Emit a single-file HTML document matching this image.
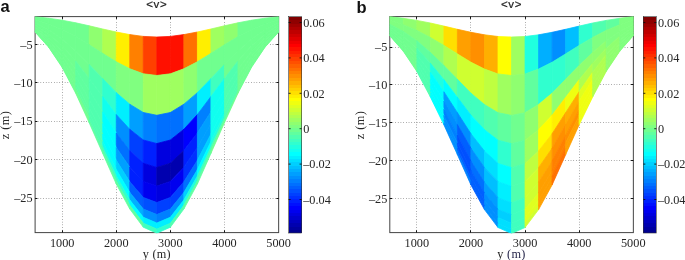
<!DOCTYPE html>
<html><head><meta charset="utf-8"><title>Figure</title>
<style>
html,body{margin:0;padding:0;background:#fff;}
svg{display:block;}
</style></head><body>
<svg width="685" height="260" viewBox="0 0 685 260">
<rect x="0" y="0" width="685" height="260" fill="#fff"/>
<g transform="translate(0,0)">
<g stroke="#555" stroke-width="0.75" stroke-dasharray="0.65,2.05" fill="none">
<line x1="62.50" y1="16.6" x2="62.50" y2="232.6"/>
<line x1="116.50" y1="16.6" x2="116.50" y2="232.6"/>
<line x1="170.50" y1="16.6" x2="170.50" y2="232.6"/>
<line x1="224.50" y1="16.6" x2="224.50" y2="232.6"/>
<line x1="35.1" y1="44.50" x2="278.65" y2="44.50"/>
<line x1="35.1" y1="82.50" x2="278.65" y2="82.50"/>
<line x1="35.1" y1="121.50" x2="278.65" y2="121.50"/>
<line x1="35.1" y1="159.50" x2="278.65" y2="159.50"/>
<line x1="35.1" y1="198.50" x2="278.65" y2="198.50"/>
</g>
<rect x="35.1" y="16.6" width="243.54999999999998" height="216.0" fill="none" stroke="#444" stroke-width="1"/>
<g stroke="#111" stroke-width="1">
<line x1="62.50" y1="232.6" x2="62.50" y2="230.29999999999998"/>
<line x1="62.50" y1="16.6" x2="62.50" y2="18.900000000000002"/>
<line x1="116.50" y1="232.6" x2="116.50" y2="230.29999999999998"/>
<line x1="116.50" y1="16.6" x2="116.50" y2="18.900000000000002"/>
<line x1="170.50" y1="232.6" x2="170.50" y2="230.29999999999998"/>
<line x1="170.50" y1="16.6" x2="170.50" y2="18.900000000000002"/>
<line x1="224.50" y1="232.6" x2="224.50" y2="230.29999999999998"/>
<line x1="224.50" y1="16.6" x2="224.50" y2="18.900000000000002"/>
<line x1="35.1" y1="44.50" x2="37.4" y2="44.50"/>
<line x1="278.65" y1="44.50" x2="276.34999999999997" y2="44.50"/>
<line x1="35.1" y1="82.50" x2="37.4" y2="82.50"/>
<line x1="278.65" y1="82.50" x2="276.34999999999997" y2="82.50"/>
<line x1="35.1" y1="121.50" x2="37.4" y2="121.50"/>
<line x1="278.65" y1="121.50" x2="276.34999999999997" y2="121.50"/>
<line x1="35.1" y1="159.50" x2="37.4" y2="159.50"/>
<line x1="278.65" y1="159.50" x2="276.34999999999997" y2="159.50"/>
<line x1="35.1" y1="198.50" x2="37.4" y2="198.50"/>
<line x1="278.65" y1="198.50" x2="276.34999999999997" y2="198.50"/>
</g>
<clipPath id="clipa"><rect x="34.5" y="16.3" width="244.74999999999997" height="216.9"/></clipPath>
<g clip-path="url(#clipa)" stroke-width="0.8" stroke-linejoin="round">
<polygon points="35.10,16.70 48.62,18.20 48.62,23.88 35.10,19.72" fill="#70ff8f" stroke="#70ff8f"/>
<polygon points="48.62,18.20 62.15,20.20 62.15,29.45 48.62,23.88" fill="#70ff8f" stroke="#70ff8f"/>
<polygon points="62.15,20.20 75.68,22.80 75.68,36.60 62.15,29.45" fill="#70ff8f" stroke="#70ff8f"/>
<polygon points="75.68,22.80 89.20,25.80 89.20,44.81 75.68,36.60" fill="#70ff8f" stroke="#70ff8f"/>
<polygon points="89.20,25.80 102.73,29.00 102.73,53.38 89.20,44.81" fill="#8fff70" stroke="#8fff70"/>
<polygon points="102.72,29.00 116.25,32.00 116.25,61.79 102.72,53.38" fill="#afff50" stroke="#afff50"/>
<polygon points="116.25,32.00 129.78,34.60 129.78,68.78 116.25,61.79" fill="#ffef00" stroke="#ffef00"/>
<polygon points="129.78,34.60 143.30,36.40 143.30,73.80 129.78,68.78" fill="#ff8000" stroke="#ff8000"/>
<polygon points="143.30,36.40 156.83,37.00 156.83,75.46 143.30,73.80" fill="#ff4000" stroke="#ff4000"/>
<polygon points="156.83,37.00 170.35,36.40 170.35,73.80 156.83,75.46" fill="#ff1000" stroke="#ff1000"/>
<polygon points="170.35,36.40 183.88,34.60 183.88,68.78 170.35,73.80" fill="#ff1000" stroke="#ff1000"/>
<polygon points="183.88,34.60 197.40,32.00 197.40,61.79 183.88,68.78" fill="#ff7000" stroke="#ff7000"/>
<polygon points="197.40,32.00 210.93,29.00 210.93,53.38 197.40,61.79" fill="#ffef00" stroke="#ffef00"/>
<polygon points="210.93,29.00 224.45,25.80 224.45,44.81 210.93,53.38" fill="#9fff60" stroke="#9fff60"/>
<polygon points="224.45,25.80 237.97,22.80 237.97,36.60 224.45,44.81" fill="#8fff70" stroke="#8fff70"/>
<polygon points="237.97,22.80 251.50,20.20 251.50,29.45 237.97,36.60" fill="#70ff8f" stroke="#70ff8f"/>
<polygon points="251.50,20.20 265.02,18.20 265.02,23.88 251.50,29.45" fill="#70ff8f" stroke="#70ff8f"/>
<polygon points="265.03,18.20 278.55,16.70 278.55,19.72 265.03,23.88" fill="#70ff8f" stroke="#70ff8f"/>
<polygon points="35.10,19.72 48.62,23.88 48.62,29.77 35.10,22.84" fill="#70ff8f" stroke="#70ff8f"/>
<polygon points="48.62,23.88 62.15,29.45 62.15,39.03 48.62,29.77" fill="#70ff8f" stroke="#70ff8f"/>
<polygon points="62.15,29.45 75.68,36.60 75.68,50.89 62.15,39.03" fill="#70ff8f" stroke="#70ff8f"/>
<polygon points="75.68,36.60 89.20,44.81 89.20,64.50 75.68,50.89" fill="#70ff8f" stroke="#70ff8f"/>
<polygon points="89.20,44.81 102.73,53.38 102.73,78.64 89.20,64.50" fill="#70ff8f" stroke="#70ff8f"/>
<polygon points="102.72,53.38 116.25,61.79 116.25,92.65 102.72,78.64" fill="#70ff8f" stroke="#70ff8f"/>
<polygon points="116.25,61.79 129.78,68.78 129.78,104.19 116.25,92.65" fill="#80ff80" stroke="#80ff80"/>
<polygon points="129.78,68.78 143.30,73.80 143.30,112.53 129.78,104.19" fill="#80ff80" stroke="#80ff80"/>
<polygon points="143.30,73.80 156.83,75.46 156.83,115.28 143.30,112.53" fill="#9fff60" stroke="#9fff60"/>
<polygon points="156.83,75.46 170.35,73.80 170.35,112.53 156.83,115.28" fill="#9fff60" stroke="#9fff60"/>
<polygon points="170.35,73.80 183.88,68.78 183.88,104.19 170.35,112.53" fill="#9fff60" stroke="#9fff60"/>
<polygon points="183.88,68.78 197.40,61.79 197.40,92.65 183.88,104.19" fill="#8fff70" stroke="#8fff70"/>
<polygon points="197.40,61.79 210.93,53.38 210.93,78.64 197.40,92.65" fill="#70ff8f" stroke="#70ff8f"/>
<polygon points="210.93,53.38 224.45,44.81 224.45,64.50 210.93,78.64" fill="#70ff8f" stroke="#70ff8f"/>
<polygon points="224.45,44.81 237.97,36.60 237.97,50.89 224.45,64.50" fill="#70ff8f" stroke="#70ff8f"/>
<polygon points="237.97,36.60 251.50,29.45 251.50,39.03 237.97,50.89" fill="#70ff8f" stroke="#70ff8f"/>
<polygon points="251.50,29.45 265.02,23.88 265.02,29.77 251.50,39.03" fill="#70ff8f" stroke="#70ff8f"/>
<polygon points="265.03,23.88 278.55,19.72 278.55,22.84 265.03,29.77" fill="#70ff8f" stroke="#70ff8f"/>
<polygon points="35.10,22.84 48.62,29.77 48.62,33.95 35.10,25.06" fill="#70ff8f" stroke="#70ff8f"/>
<polygon points="48.62,29.77 62.15,39.03 62.15,45.83 48.62,33.95" fill="#70ff8f" stroke="#70ff8f"/>
<polygon points="62.15,39.03 75.68,50.89 75.68,61.03 62.15,45.83" fill="#70ff8f" stroke="#70ff8f"/>
<polygon points="75.68,50.89 89.20,64.50 89.20,78.47 75.68,61.03" fill="#70ff8f" stroke="#70ff8f"/>
<polygon points="89.20,64.50 102.73,78.64 102.73,96.55 89.20,78.47" fill="#50ffaf" stroke="#50ffaf"/>
<polygon points="102.72,78.64 116.25,92.65 116.25,114.54 102.72,96.55" fill="#30ffcf" stroke="#30ffcf"/>
<polygon points="116.25,92.65 129.78,104.19 129.78,129.30 116.25,114.54" fill="#00efff" stroke="#00efff"/>
<polygon points="129.78,104.19 143.30,112.53 143.30,140.00 129.78,129.30" fill="#009fff" stroke="#009fff"/>
<polygon points="143.30,112.53 156.83,115.28 156.83,143.54 143.30,140.00" fill="#0080ff" stroke="#0080ff"/>
<polygon points="156.83,115.28 170.35,112.53 170.35,140.00 156.83,143.54" fill="#0070ff" stroke="#0070ff"/>
<polygon points="170.35,112.53 183.88,104.19 183.88,129.30 170.35,140.00" fill="#0070ff" stroke="#0070ff"/>
<polygon points="183.88,104.19 197.40,92.65 197.40,114.54 183.88,129.30" fill="#009fff" stroke="#009fff"/>
<polygon points="197.40,92.65 210.93,78.64 210.93,96.55 197.40,114.54" fill="#00efff" stroke="#00efff"/>
<polygon points="210.93,78.64 224.45,64.50 224.45,78.47 210.93,96.55" fill="#40ffbf" stroke="#40ffbf"/>
<polygon points="224.45,64.50 237.97,50.89 237.97,61.03 224.45,78.47" fill="#70ff8f" stroke="#70ff8f"/>
<polygon points="237.97,50.89 251.50,39.03 251.50,45.83 237.97,61.03" fill="#70ff8f" stroke="#70ff8f"/>
<polygon points="251.50,39.03 265.02,29.77 265.02,33.95 251.50,45.83" fill="#70ff8f" stroke="#70ff8f"/>
<polygon points="265.03,29.77 278.55,22.84 278.55,25.06 265.03,33.95" fill="#70ff8f" stroke="#70ff8f"/>
<polygon points="35.10,25.06 48.62,33.95 48.62,37.48 35.10,26.94" fill="#70ff8f" stroke="#70ff8f"/>
<polygon points="48.62,33.95 62.15,45.83 62.15,51.59 48.62,37.48" fill="#70ff8f" stroke="#70ff8f"/>
<polygon points="62.15,45.83 75.68,61.03 75.68,69.62 62.15,51.59" fill="#70ff8f" stroke="#70ff8f"/>
<polygon points="75.68,61.03 89.20,78.47 89.20,90.31 75.68,69.62" fill="#60ff9f" stroke="#60ff9f"/>
<polygon points="89.20,78.47 102.73,96.55 102.73,111.73 89.20,90.31" fill="#50ffaf" stroke="#50ffaf"/>
<polygon points="102.72,96.55 116.25,114.54 116.25,133.08 102.72,111.73" fill="#10ffef" stroke="#10ffef"/>
<polygon points="116.25,114.54 129.78,129.30 129.78,150.58 116.25,133.08" fill="#008fff" stroke="#008fff"/>
<polygon points="129.78,129.30 143.30,140.00 143.30,163.28 129.78,150.58" fill="#0040ff" stroke="#0040ff"/>
<polygon points="143.30,140.00 156.83,143.54 156.83,167.47 143.30,163.28" fill="#0020ff" stroke="#0020ff"/>
<polygon points="156.83,143.54 170.35,140.00 170.35,163.28 156.83,167.47" fill="#0000df" stroke="#0000df"/>
<polygon points="170.35,140.00 183.88,129.30 183.88,150.58 170.35,163.28" fill="#0000df" stroke="#0000df"/>
<polygon points="183.88,129.30 197.40,114.54 197.40,133.08 183.88,150.58" fill="#0000ff" stroke="#0000ff"/>
<polygon points="197.40,114.54 210.93,96.55 210.93,111.73 197.40,133.08" fill="#0080ff" stroke="#0080ff"/>
<polygon points="210.93,96.55 224.45,78.47 224.45,90.31 210.93,111.73" fill="#10ffef" stroke="#10ffef"/>
<polygon points="224.45,78.47 237.97,61.03 237.97,69.62 224.45,90.31" fill="#50ffaf" stroke="#50ffaf"/>
<polygon points="237.97,61.03 251.50,45.83 251.50,51.59 237.97,69.62" fill="#70ff8f" stroke="#70ff8f"/>
<polygon points="251.50,45.83 265.02,33.95 265.02,37.48 251.50,51.59" fill="#70ff8f" stroke="#70ff8f"/>
<polygon points="265.03,33.95 278.55,25.06 278.55,26.94 265.03,37.48" fill="#70ff8f" stroke="#70ff8f"/>
<polygon points="35.10,26.94 48.62,37.48 48.62,40.24 35.10,28.40" fill="#70ff8f" stroke="#70ff8f"/>
<polygon points="48.62,37.48 62.15,51.59 62.15,56.07 48.62,40.24" fill="#70ff8f" stroke="#70ff8f"/>
<polygon points="62.15,51.59 75.68,69.62 75.68,76.30 62.15,56.07" fill="#70ff8f" stroke="#70ff8f"/>
<polygon points="75.68,69.62 89.20,90.31 89.20,99.52 75.68,76.30" fill="#60ff9f" stroke="#60ff9f"/>
<polygon points="89.20,90.31 102.73,111.73 102.73,123.54 89.20,99.52" fill="#50ffaf" stroke="#50ffaf"/>
<polygon points="102.72,111.73 116.25,133.08 116.25,147.52 102.72,123.54" fill="#00ffff" stroke="#00ffff"/>
<polygon points="116.25,133.08 129.78,150.58 129.78,167.14 116.25,147.52" fill="#0070ff" stroke="#0070ff"/>
<polygon points="129.78,150.58 143.30,163.28 143.30,181.41 129.78,167.14" fill="#0020ff" stroke="#0020ff"/>
<polygon points="143.30,163.28 156.83,167.47 156.83,186.11 143.30,181.41" fill="#0000df" stroke="#0000df"/>
<polygon points="156.83,167.47 170.35,163.28 170.35,181.41 156.83,186.11" fill="#0000af" stroke="#0000af"/>
<polygon points="170.35,163.28 183.88,150.58 183.88,167.14 170.35,181.41" fill="#0000af" stroke="#0000af"/>
<polygon points="183.88,150.58 197.40,133.08 197.40,147.52 183.88,167.14" fill="#0020ff" stroke="#0020ff"/>
<polygon points="197.40,133.08 210.93,111.73 210.93,123.54 197.40,147.52" fill="#009fff" stroke="#009fff"/>
<polygon points="210.93,111.73 224.45,90.31 224.45,99.52 210.93,123.54" fill="#10ffef" stroke="#10ffef"/>
<polygon points="224.45,90.31 237.97,69.62 237.97,76.30 224.45,99.52" fill="#50ffaf" stroke="#50ffaf"/>
<polygon points="237.97,69.62 251.50,51.59 251.50,56.07 237.97,76.30" fill="#70ff8f" stroke="#70ff8f"/>
<polygon points="251.50,51.59 265.02,37.48 265.02,40.24 251.50,56.07" fill="#70ff8f" stroke="#70ff8f"/>
<polygon points="265.03,37.48 278.55,26.94 278.55,28.40 265.03,40.24" fill="#70ff8f" stroke="#70ff8f"/>
<polygon points="35.10,28.40 48.62,40.24 48.62,42.68 35.10,29.70" fill="#70ff8f" stroke="#70ff8f"/>
<polygon points="48.62,40.24 62.15,56.07 62.15,60.04 48.62,42.68" fill="#70ff8f" stroke="#70ff8f"/>
<polygon points="62.15,56.07 75.68,76.30 75.68,82.22 62.15,60.04" fill="#70ff8f" stroke="#70ff8f"/>
<polygon points="75.68,76.30 89.20,99.52 89.20,107.67 75.68,82.22" fill="#60ff9f" stroke="#60ff9f"/>
<polygon points="89.20,99.52 102.73,123.54 102.73,133.99 89.20,107.67" fill="#50ffaf" stroke="#50ffaf"/>
<polygon points="102.72,123.54 116.25,147.52 116.25,160.29 102.72,133.99" fill="#00ffff" stroke="#00ffff"/>
<polygon points="116.25,147.52 129.78,167.14 129.78,181.79 116.25,160.29" fill="#009fff" stroke="#009fff"/>
<polygon points="129.78,167.14 143.30,181.41 143.30,197.44 129.78,181.79" fill="#0020ff" stroke="#0020ff"/>
<polygon points="143.30,181.41 156.83,186.11 156.83,202.59 143.30,197.44" fill="#0000ef" stroke="#0000ef"/>
<polygon points="156.83,186.11 170.35,181.41 170.35,197.44 156.83,202.59" fill="#0000df" stroke="#0000df"/>
<polygon points="170.35,181.41 183.88,167.14 183.88,181.79 170.35,197.44" fill="#0000ef" stroke="#0000ef"/>
<polygon points="183.88,167.14 197.40,147.52 197.40,160.29 183.88,181.79" fill="#0030ff" stroke="#0030ff"/>
<polygon points="197.40,147.52 210.93,123.54 210.93,133.99 197.40,160.29" fill="#009fff" stroke="#009fff"/>
<polygon points="210.93,123.54 224.45,99.52 224.45,107.67 210.93,133.99" fill="#10ffef" stroke="#10ffef"/>
<polygon points="224.45,99.52 237.97,76.30 237.97,82.22 224.45,107.67" fill="#50ffaf" stroke="#50ffaf"/>
<polygon points="237.97,76.30 251.50,56.07 251.50,60.04 237.97,82.22" fill="#70ff8f" stroke="#70ff8f"/>
<polygon points="251.50,56.07 265.02,40.24 265.02,42.68 251.50,60.04" fill="#70ff8f" stroke="#70ff8f"/>
<polygon points="265.03,40.24 278.55,28.40 278.55,29.70 265.03,42.68" fill="#70ff8f" stroke="#70ff8f"/>
<polygon points="35.10,29.70 48.62,42.68 48.62,44.45 35.10,30.64" fill="#70ff8f" stroke="#70ff8f"/>
<polygon points="48.62,42.68 62.15,60.04 62.15,62.92 48.62,44.45" fill="#70ff8f" stroke="#70ff8f"/>
<polygon points="62.15,60.04 75.68,82.22 75.68,86.51 62.15,62.92" fill="#70ff8f" stroke="#70ff8f"/>
<polygon points="75.68,82.22 89.20,107.67 89.20,113.58 75.68,86.51" fill="#60ff9f" stroke="#60ff9f"/>
<polygon points="89.20,107.67 102.73,133.99 102.73,141.58 89.20,113.58" fill="#50ffaf" stroke="#50ffaf"/>
<polygon points="102.72,133.99 116.25,160.29 116.25,169.56 102.72,141.58" fill="#00ffff" stroke="#00ffff"/>
<polygon points="116.25,160.29 129.78,181.79 129.78,192.43 116.25,169.56" fill="#00cfff" stroke="#00cfff"/>
<polygon points="129.78,181.79 143.30,197.44 143.30,209.07 129.78,192.43" fill="#0060ff" stroke="#0060ff"/>
<polygon points="143.30,197.44 156.83,202.59 156.83,214.56 143.30,209.07" fill="#0050ff" stroke="#0050ff"/>
<polygon points="156.83,202.59 170.35,197.44 170.35,209.07 156.83,214.56" fill="#0040ff" stroke="#0040ff"/>
<polygon points="170.35,197.44 183.88,181.79 183.88,192.43 170.35,209.07" fill="#0040ff" stroke="#0040ff"/>
<polygon points="183.88,181.79 197.40,160.29 197.40,169.56 183.88,192.43" fill="#0070ff" stroke="#0070ff"/>
<polygon points="197.40,160.29 210.93,133.99 210.93,141.58 197.40,169.56" fill="#00cfff" stroke="#00cfff"/>
<polygon points="210.93,133.99 224.45,107.67 224.45,113.58 210.93,141.58" fill="#10ffef" stroke="#10ffef"/>
<polygon points="224.45,107.67 237.97,82.22 237.97,86.51 224.45,113.58" fill="#50ffaf" stroke="#50ffaf"/>
<polygon points="237.97,82.22 251.50,60.04 251.50,62.92 237.97,86.51" fill="#70ff8f" stroke="#70ff8f"/>
<polygon points="251.50,60.04 265.02,42.68 265.02,44.45 251.50,62.92" fill="#70ff8f" stroke="#70ff8f"/>
<polygon points="265.03,42.68 278.55,29.70 278.55,30.64 265.03,44.45" fill="#70ff8f" stroke="#70ff8f"/>
<polygon points="35.10,30.64 48.62,44.45 48.62,45.69 35.10,31.30" fill="#70ff8f" stroke="#70ff8f"/>
<polygon points="48.62,44.45 62.15,62.92 62.15,64.95 48.62,45.69" fill="#70ff8f" stroke="#70ff8f"/>
<polygon points="62.15,62.92 75.68,86.51 75.68,89.54 62.15,64.95" fill="#70ff8f" stroke="#70ff8f"/>
<polygon points="75.68,86.51 89.20,113.58 89.20,117.76 75.68,89.54" fill="#60ff9f" stroke="#60ff9f"/>
<polygon points="89.20,113.58 102.73,141.58 102.73,146.93 89.20,117.76" fill="#50ffaf" stroke="#50ffaf"/>
<polygon points="102.72,141.58 116.25,169.56 116.25,176.10 102.72,146.93" fill="#10ffef" stroke="#10ffef"/>
<polygon points="116.25,169.56 129.78,192.43 129.78,199.93 116.25,176.10" fill="#00ffff" stroke="#00ffff"/>
<polygon points="129.78,192.43 143.30,209.07 143.30,217.28 129.78,199.93" fill="#00afff" stroke="#00afff"/>
<polygon points="143.30,209.07 156.83,214.56 156.83,223.00 143.30,217.28" fill="#008fff" stroke="#008fff"/>
<polygon points="156.83,214.56 170.35,209.07 170.35,217.28 156.83,223.00" fill="#0080ff" stroke="#0080ff"/>
<polygon points="170.35,209.07 183.88,192.43 183.88,199.93 170.35,217.28" fill="#008fff" stroke="#008fff"/>
<polygon points="183.88,192.43 197.40,169.56 197.40,176.10 183.88,199.93" fill="#00cfff" stroke="#00cfff"/>
<polygon points="197.40,169.56 210.93,141.58 210.93,146.93 197.40,176.10" fill="#00ffff" stroke="#00ffff"/>
<polygon points="210.93,141.58 224.45,113.58 224.45,117.76 210.93,146.93" fill="#20ffdf" stroke="#20ffdf"/>
<polygon points="224.45,113.58 237.97,86.51 237.97,89.54 224.45,117.76" fill="#50ffaf" stroke="#50ffaf"/>
<polygon points="237.97,86.51 251.50,62.92 251.50,64.95 237.97,89.54" fill="#70ff8f" stroke="#70ff8f"/>
<polygon points="251.50,62.92 265.02,44.45 265.02,45.69 251.50,64.95" fill="#70ff8f" stroke="#70ff8f"/>
<polygon points="265.03,44.45 278.55,30.64 278.55,31.30 265.03,45.69" fill="#70ff8f" stroke="#70ff8f"/>
<polygon points="35.10,31.30 48.62,45.69 48.62,46.59 35.10,31.78" fill="#70ff8f" stroke="#70ff8f"/>
<polygon points="48.62,45.69 62.15,64.95 62.15,66.41 48.62,46.59" fill="#70ff8f" stroke="#70ff8f"/>
<polygon points="62.15,64.95 75.68,89.54 75.68,91.72 62.15,66.41" fill="#70ff8f" stroke="#70ff8f"/>
<polygon points="75.68,89.54 89.20,117.76 89.20,120.76 75.68,91.72" fill="#70ff8f" stroke="#70ff8f"/>
<polygon points="89.20,117.76 102.73,146.93 102.73,150.79 89.20,120.76" fill="#50ffaf" stroke="#50ffaf"/>
<polygon points="102.72,146.93 116.25,176.10 116.25,180.81 102.72,150.79" fill="#40ffbf" stroke="#40ffbf"/>
<polygon points="116.25,176.10 129.78,199.93 129.78,205.34 116.25,180.81" fill="#30ffcf" stroke="#30ffcf"/>
<polygon points="129.78,199.93 143.30,217.28 143.30,223.19 129.78,205.34" fill="#00ffff" stroke="#00ffff"/>
<polygon points="143.30,217.28 156.83,223.00 156.83,229.08 143.30,223.19" fill="#00efff" stroke="#00efff"/>
<polygon points="156.83,223.00 170.35,217.28 170.35,223.19 156.83,229.08" fill="#00efff" stroke="#00efff"/>
<polygon points="170.35,217.28 183.88,199.93 183.88,205.34 170.35,223.19" fill="#00efff" stroke="#00efff"/>
<polygon points="183.88,199.93 197.40,176.10 197.40,180.81 183.88,205.34" fill="#20ffdf" stroke="#20ffdf"/>
<polygon points="197.40,176.10 210.93,146.93 210.93,150.79 197.40,180.81" fill="#40ffbf" stroke="#40ffbf"/>
<polygon points="210.93,146.93 224.45,117.76 224.45,120.76 210.93,150.79" fill="#50ffaf" stroke="#50ffaf"/>
<polygon points="224.45,117.76 237.97,89.54 237.97,91.72 224.45,120.76" fill="#50ffaf" stroke="#50ffaf"/>
<polygon points="237.97,89.54 251.50,64.95 251.50,66.41 237.97,91.72" fill="#70ff8f" stroke="#70ff8f"/>
<polygon points="251.50,64.95 265.02,45.69 265.02,46.59 251.50,66.41" fill="#70ff8f" stroke="#70ff8f"/>
<polygon points="265.03,45.69 278.55,31.30 278.55,31.78 265.03,46.59" fill="#70ff8f" stroke="#70ff8f"/>
<polygon points="35.10,31.78 48.62,46.59 48.62,47.20 35.10,32.10" fill="#70ff8f" stroke="#70ff8f"/>
<polygon points="48.62,46.59 62.15,66.41 62.15,67.40 48.62,47.20" fill="#70ff8f" stroke="#70ff8f"/>
<polygon points="62.15,66.41 75.68,91.72 75.68,93.20 62.15,67.40" fill="#70ff8f" stroke="#70ff8f"/>
<polygon points="75.68,91.72 89.20,120.76 89.20,122.80 75.68,93.20" fill="#70ff8f" stroke="#70ff8f"/>
<polygon points="89.20,120.76 102.73,150.79 102.73,153.40 89.20,122.80" fill="#60ff9f" stroke="#60ff9f"/>
<polygon points="102.72,150.79 116.25,180.81 116.25,184.00 102.72,153.40" fill="#60ff9f" stroke="#60ff9f"/>
<polygon points="116.25,180.81 129.78,205.34 129.78,209.00 116.25,184.00" fill="#60ff9f" stroke="#60ff9f"/>
<polygon points="129.78,205.34 143.30,223.19 143.30,227.20 129.78,209.00" fill="#60ff9f" stroke="#60ff9f"/>
<polygon points="143.30,223.19 156.83,229.08 156.83,233.20 143.30,227.20" fill="#40ffbf" stroke="#40ffbf"/>
<polygon points="156.83,229.08 170.35,223.19 170.35,227.20 156.83,233.20" fill="#30ffcf" stroke="#30ffcf"/>
<polygon points="170.35,223.19 183.88,205.34 183.88,209.00 170.35,227.20" fill="#50ffaf" stroke="#50ffaf"/>
<polygon points="183.88,205.34 197.40,180.81 197.40,184.00 183.88,209.00" fill="#60ff9f" stroke="#60ff9f"/>
<polygon points="197.40,180.81 210.93,150.79 210.93,153.40 197.40,184.00" fill="#60ff9f" stroke="#60ff9f"/>
<polygon points="210.93,150.79 224.45,120.76 224.45,122.80 210.93,153.40" fill="#70ff8f" stroke="#70ff8f"/>
<polygon points="224.45,120.76 237.97,91.72 237.97,93.20 224.45,122.80" fill="#70ff8f" stroke="#70ff8f"/>
<polygon points="237.97,91.72 251.50,66.41 251.50,67.40 237.97,93.20" fill="#70ff8f" stroke="#70ff8f"/>
<polygon points="251.50,66.41 265.02,46.59 265.02,47.20 251.50,67.40" fill="#70ff8f" stroke="#70ff8f"/>
<polygon points="265.03,46.59 278.55,31.78 278.55,32.10 265.03,47.20" fill="#70ff8f" stroke="#70ff8f"/>
</g>
<g font-family="'Liberation Serif', serif" font-size="13.2px" fill="#262626">
<text transform="translate(62.15,247.00) scale(0.93,1)" text-anchor="middle">1000</text>
<text transform="translate(116.25,247.00) scale(0.93,1)" text-anchor="middle">2000</text>
<text transform="translate(170.35,247.00) scale(0.93,1)" text-anchor="middle">3000</text>
<text transform="translate(224.45,247.00) scale(0.93,1)" text-anchor="middle">4000</text>
<text transform="translate(278.55,247.00) scale(0.93,1)" text-anchor="middle">5000</text>
<text transform="translate(32.60,48.61) scale(0.93,1)" text-anchor="end">–5</text>
<text transform="translate(32.60,87.03) scale(0.93,1)" text-anchor="end">–10</text>
<text transform="translate(32.60,125.45) scale(0.93,1)" text-anchor="end">–15</text>
<text transform="translate(32.60,163.88) scale(0.93,1)" text-anchor="end">–20</text>
<text transform="translate(32.60,202.30) scale(0.93,1)" text-anchor="end">–25</text>
<text transform="translate(156.80,257.60) scale(0.93,1)" text-anchor="middle" letter-spacing="0.3">y (m)</text>
<text transform="translate(9.2,125) rotate(-90) scale(0.93,1)" text-anchor="middle" letter-spacing="0.5">z (m)</text>
<text transform="translate(303.20,26.80) scale(0.93,1)" text-anchor="start">0.06</text>
<text transform="translate(303.20,62.20) scale(0.93,1)" text-anchor="start">0.04</text>
<text transform="translate(303.20,97.60) scale(0.93,1)" text-anchor="start">0.02</text>
<text transform="translate(303.20,133.00) scale(0.93,1)" text-anchor="start">0</text>
<text transform="translate(303.20,168.40) scale(0.93,1)" text-anchor="start">–0.02</text>
<text transform="translate(303.20,203.80) scale(0.93,1)" text-anchor="start">–0.04</text>
</g>
<text x="156.8" y="8.1" text-anchor="middle" font-family="'Liberation Sans', sans-serif" font-size="11.5px" letter-spacing="0.6" fill="#222" stroke="#222" stroke-width="0.2">&lt;v&gt;</text>
<text x="0.6" y="12.4" font-family="'Liberation Sans', sans-serif" font-weight="bold" font-size="16.5px" fill="#111">a</text>
<g shape-rendering="crispEdges">
<rect x="288.6" y="229.62" width="13.0" height="3.68" fill="#00008f"/>
<rect x="288.6" y="226.24" width="13.0" height="3.68" fill="#00009f"/>
<rect x="288.6" y="222.86" width="13.0" height="3.68" fill="#0000af"/>
<rect x="288.6" y="219.47" width="13.0" height="3.68" fill="#0000bf"/>
<rect x="288.6" y="216.09" width="13.0" height="3.68" fill="#0000cf"/>
<rect x="288.6" y="212.71" width="13.0" height="3.68" fill="#0000df"/>
<rect x="288.6" y="209.33" width="13.0" height="3.68" fill="#0000ef"/>
<rect x="288.6" y="205.95" width="13.0" height="3.68" fill="#0000ff"/>
<rect x="288.6" y="202.57" width="13.0" height="3.68" fill="#0010ff"/>
<rect x="288.6" y="199.19" width="13.0" height="3.68" fill="#0020ff"/>
<rect x="288.6" y="195.81" width="13.0" height="3.68" fill="#0030ff"/>
<rect x="288.6" y="192.43" width="13.0" height="3.68" fill="#0040ff"/>
<rect x="288.6" y="189.04" width="13.0" height="3.68" fill="#0050ff"/>
<rect x="288.6" y="185.66" width="13.0" height="3.68" fill="#0060ff"/>
<rect x="288.6" y="182.28" width="13.0" height="3.68" fill="#0070ff"/>
<rect x="288.6" y="178.90" width="13.0" height="3.68" fill="#0080ff"/>
<rect x="288.6" y="175.52" width="13.0" height="3.68" fill="#008fff"/>
<rect x="288.6" y="172.14" width="13.0" height="3.68" fill="#009fff"/>
<rect x="288.6" y="168.76" width="13.0" height="3.68" fill="#00afff"/>
<rect x="288.6" y="165.38" width="13.0" height="3.68" fill="#00bfff"/>
<rect x="288.6" y="161.99" width="13.0" height="3.68" fill="#00cfff"/>
<rect x="288.6" y="158.61" width="13.0" height="3.68" fill="#00dfff"/>
<rect x="288.6" y="155.23" width="13.0" height="3.68" fill="#00efff"/>
<rect x="288.6" y="151.85" width="13.0" height="3.68" fill="#00ffff"/>
<rect x="288.6" y="148.47" width="13.0" height="3.68" fill="#10ffef"/>
<rect x="288.6" y="145.09" width="13.0" height="3.68" fill="#20ffdf"/>
<rect x="288.6" y="141.71" width="13.0" height="3.68" fill="#30ffcf"/>
<rect x="288.6" y="138.32" width="13.0" height="3.68" fill="#40ffbf"/>
<rect x="288.6" y="134.94" width="13.0" height="3.68" fill="#50ffaf"/>
<rect x="288.6" y="131.56" width="13.0" height="3.68" fill="#60ff9f"/>
<rect x="288.6" y="128.18" width="13.0" height="3.68" fill="#70ff8f"/>
<rect x="288.6" y="124.80" width="13.0" height="3.68" fill="#80ff80"/>
<rect x="288.6" y="121.42" width="13.0" height="3.68" fill="#8fff70"/>
<rect x="288.6" y="118.04" width="13.0" height="3.68" fill="#9fff60"/>
<rect x="288.6" y="114.66" width="13.0" height="3.68" fill="#afff50"/>
<rect x="288.6" y="111.27" width="13.0" height="3.68" fill="#bfff40"/>
<rect x="288.6" y="107.89" width="13.0" height="3.68" fill="#cfff30"/>
<rect x="288.6" y="104.51" width="13.0" height="3.68" fill="#dfff20"/>
<rect x="288.6" y="101.13" width="13.0" height="3.68" fill="#efff10"/>
<rect x="288.6" y="97.75" width="13.0" height="3.68" fill="#ffff00"/>
<rect x="288.6" y="94.37" width="13.0" height="3.68" fill="#ffef00"/>
<rect x="288.6" y="90.99" width="13.0" height="3.68" fill="#ffdf00"/>
<rect x="288.6" y="87.61" width="13.0" height="3.68" fill="#ffcf00"/>
<rect x="288.6" y="84.22" width="13.0" height="3.68" fill="#ffbf00"/>
<rect x="288.6" y="80.84" width="13.0" height="3.68" fill="#ffaf00"/>
<rect x="288.6" y="77.46" width="13.0" height="3.68" fill="#ff9f00"/>
<rect x="288.6" y="74.08" width="13.0" height="3.68" fill="#ff8f00"/>
<rect x="288.6" y="70.70" width="13.0" height="3.68" fill="#ff8000"/>
<rect x="288.6" y="67.32" width="13.0" height="3.68" fill="#ff7000"/>
<rect x="288.6" y="63.94" width="13.0" height="3.68" fill="#ff6000"/>
<rect x="288.6" y="60.56" width="13.0" height="3.68" fill="#ff5000"/>
<rect x="288.6" y="57.17" width="13.0" height="3.68" fill="#ff4000"/>
<rect x="288.6" y="53.79" width="13.0" height="3.68" fill="#ff3000"/>
<rect x="288.6" y="50.41" width="13.0" height="3.68" fill="#ff2000"/>
<rect x="288.6" y="47.03" width="13.0" height="3.68" fill="#ff1000"/>
<rect x="288.6" y="43.65" width="13.0" height="3.68" fill="#ff0000"/>
<rect x="288.6" y="40.27" width="13.0" height="3.68" fill="#ef0000"/>
<rect x="288.6" y="36.89" width="13.0" height="3.68" fill="#df0000"/>
<rect x="288.6" y="33.51" width="13.0" height="3.68" fill="#cf0000"/>
<rect x="288.6" y="30.12" width="13.0" height="3.68" fill="#bf0000"/>
<rect x="288.6" y="26.74" width="13.0" height="3.68" fill="#af0000"/>
<rect x="288.6" y="23.36" width="13.0" height="3.68" fill="#9f0000"/>
<rect x="288.6" y="19.98" width="13.0" height="3.68" fill="#8f0000"/>
<rect x="288.6" y="16.60" width="13.0" height="3.68" fill="#800000"/>
</g>
<rect x="288.6" y="16.6" width="13.0" height="216.4" fill="none" stroke="#333" stroke-width="0.6"/>
<g stroke="#111" stroke-width="0.9">
<line x1="288.6" y1="22.50" x2="290.6" y2="22.50"/>
<line x1="301.6" y1="22.50" x2="299.6" y2="22.50"/>
<line x1="288.6" y1="57.90" x2="290.6" y2="57.90"/>
<line x1="301.6" y1="57.90" x2="299.6" y2="57.90"/>
<line x1="288.6" y1="93.30" x2="290.6" y2="93.30"/>
<line x1="301.6" y1="93.30" x2="299.6" y2="93.30"/>
<line x1="288.6" y1="128.70" x2="290.6" y2="128.70"/>
<line x1="301.6" y1="128.70" x2="299.6" y2="128.70"/>
<line x1="288.6" y1="164.10" x2="290.6" y2="164.10"/>
<line x1="301.6" y1="164.10" x2="299.6" y2="164.10"/>
<line x1="288.6" y1="199.50" x2="290.6" y2="199.50"/>
<line x1="301.6" y1="199.50" x2="299.6" y2="199.50"/>
</g>
</g>
<g transform="translate(354.7,0)">
<g stroke="#555" stroke-width="0.75" stroke-dasharray="0.65,2.05" fill="none">
<line x1="61.80" y1="16.6" x2="61.80" y2="232.6"/>
<line x1="115.80" y1="16.6" x2="115.80" y2="232.6"/>
<line x1="170.80" y1="16.6" x2="170.80" y2="232.6"/>
<line x1="224.80" y1="16.6" x2="224.80" y2="232.6"/>
<line x1="35.1" y1="47.50" x2="278.65" y2="47.50"/>
<line x1="35.1" y1="84.50" x2="278.65" y2="84.50"/>
<line x1="35.1" y1="122.50" x2="278.65" y2="122.50"/>
<line x1="35.1" y1="160.50" x2="278.65" y2="160.50"/>
<line x1="35.1" y1="198.50" x2="278.65" y2="198.50"/>
</g>
<rect x="35.1" y="16.6" width="243.54999999999998" height="216.0" fill="none" stroke="#444" stroke-width="1"/>
<g stroke="#111" stroke-width="1">
<line x1="61.80" y1="232.6" x2="61.80" y2="230.29999999999998"/>
<line x1="61.80" y1="16.6" x2="61.80" y2="18.900000000000002"/>
<line x1="115.80" y1="232.6" x2="115.80" y2="230.29999999999998"/>
<line x1="115.80" y1="16.6" x2="115.80" y2="18.900000000000002"/>
<line x1="170.80" y1="232.6" x2="170.80" y2="230.29999999999998"/>
<line x1="170.80" y1="16.6" x2="170.80" y2="18.900000000000002"/>
<line x1="224.80" y1="232.6" x2="224.80" y2="230.29999999999998"/>
<line x1="224.80" y1="16.6" x2="224.80" y2="18.900000000000002"/>
<line x1="35.1" y1="47.50" x2="37.4" y2="47.50"/>
<line x1="278.65" y1="47.50" x2="276.34999999999997" y2="47.50"/>
<line x1="35.1" y1="84.50" x2="37.4" y2="84.50"/>
<line x1="278.65" y1="84.50" x2="276.34999999999997" y2="84.50"/>
<line x1="35.1" y1="122.50" x2="37.4" y2="122.50"/>
<line x1="278.65" y1="122.50" x2="276.34999999999997" y2="122.50"/>
<line x1="35.1" y1="160.50" x2="37.4" y2="160.50"/>
<line x1="278.65" y1="160.50" x2="276.34999999999997" y2="160.50"/>
<line x1="35.1" y1="198.50" x2="37.4" y2="198.50"/>
<line x1="278.65" y1="198.50" x2="276.34999999999997" y2="198.50"/>
</g>
<clipPath id="clipb"><rect x="34.5" y="16.3" width="244.74999999999997" height="216.9"/></clipPath>
<g clip-path="url(#clipb)" stroke-width="0.8" stroke-linejoin="round">
<polygon points="35.10,16.60 48.62,18.30 48.62,24.77 35.10,20.36" fill="#80ff80" stroke="#80ff80"/>
<polygon points="48.62,18.30 62.15,20.40 62.15,30.42 48.62,24.77" fill="#8fff70" stroke="#8fff70"/>
<polygon points="62.15,20.40 75.68,23.00 75.68,37.50 62.15,30.42" fill="#9fff60" stroke="#9fff60"/>
<polygon points="75.68,23.00 89.20,26.10 89.20,45.45 75.68,37.50" fill="#cfff30" stroke="#cfff30"/>
<polygon points="89.20,26.10 102.73,29.30 102.73,53.88 89.20,45.45" fill="#ffdf00" stroke="#ffdf00"/>
<polygon points="102.72,29.30 116.25,32.30 116.25,62.21 102.72,53.88" fill="#ff9f00" stroke="#ff9f00"/>
<polygon points="116.25,32.30 129.78,34.80 129.78,69.06 116.25,62.21" fill="#ff8f00" stroke="#ff8f00"/>
<polygon points="129.78,34.80 143.30,36.50 143.30,73.94 129.78,69.06" fill="#ffaf00" stroke="#ffaf00"/>
<polygon points="143.30,36.50 156.83,37.00 156.83,75.51 143.30,73.94" fill="#ffff00" stroke="#ffff00"/>
<polygon points="156.83,37.00 170.35,36.50 170.35,73.94 156.83,75.51" fill="#9fff60" stroke="#9fff60"/>
<polygon points="170.35,36.50 183.88,34.80 183.88,69.06 170.35,73.94" fill="#20ffdf" stroke="#20ffdf"/>
<polygon points="183.88,34.80 197.40,32.30 197.40,62.21 183.88,69.06" fill="#00afff" stroke="#00afff"/>
<polygon points="197.40,32.30 210.93,29.30 210.93,53.88 197.40,62.21" fill="#008fff" stroke="#008fff"/>
<polygon points="210.93,29.30 224.45,26.10 224.45,45.45 210.93,53.88" fill="#00bfff" stroke="#00bfff"/>
<polygon points="224.45,26.10 237.97,23.00 237.97,37.50 224.45,45.45" fill="#30ffcf" stroke="#30ffcf"/>
<polygon points="237.97,23.00 251.50,20.40 251.50,30.42 237.97,37.50" fill="#50ffaf" stroke="#50ffaf"/>
<polygon points="251.50,20.40 265.02,18.30 265.02,24.77 251.50,30.42" fill="#60ff9f" stroke="#60ff9f"/>
<polygon points="265.03,18.30 278.55,16.60 278.55,20.36 265.03,24.77" fill="#80ff80" stroke="#80ff80"/>
<polygon points="35.10,20.36 48.62,24.77 48.62,31.47 35.10,24.26" fill="#80ff80" stroke="#80ff80"/>
<polygon points="48.62,24.77 62.15,30.42 62.15,40.79 48.62,31.47" fill="#80ff80" stroke="#80ff80"/>
<polygon points="62.15,30.42 75.68,37.50 75.68,52.53 62.15,40.79" fill="#80ff80" stroke="#80ff80"/>
<polygon points="75.68,37.50 89.20,45.45 89.20,65.48 75.68,52.53" fill="#8fff70" stroke="#8fff70"/>
<polygon points="89.20,45.45 102.73,53.88 102.73,79.33 89.20,65.48" fill="#afff50" stroke="#afff50"/>
<polygon points="102.72,53.88 116.25,62.21 116.25,93.19 102.72,79.33" fill="#cfff30" stroke="#cfff30"/>
<polygon points="116.25,62.21 129.78,69.06 129.78,104.55 116.25,93.19" fill="#cfff30" stroke="#cfff30"/>
<polygon points="129.78,69.06 143.30,73.94 143.30,112.71 129.78,104.55" fill="#bfff40" stroke="#bfff40"/>
<polygon points="143.30,73.94 156.83,75.51 156.83,115.40 143.30,112.71" fill="#9fff60" stroke="#9fff60"/>
<polygon points="156.83,75.51 170.35,73.94 170.35,112.71 156.83,115.40" fill="#8fff70" stroke="#8fff70"/>
<polygon points="170.35,73.94 183.88,69.06 183.88,104.55 170.35,112.71" fill="#60ff9f" stroke="#60ff9f"/>
<polygon points="183.88,69.06 197.40,62.21 197.40,93.19 183.88,104.55" fill="#30ffcf" stroke="#30ffcf"/>
<polygon points="197.40,62.21 210.93,53.88 210.93,79.33 197.40,93.19" fill="#30ffcf" stroke="#30ffcf"/>
<polygon points="210.93,53.88 224.45,45.45 224.45,65.48 210.93,79.33" fill="#40ffbf" stroke="#40ffbf"/>
<polygon points="224.45,45.45 237.97,37.50 237.97,52.53 224.45,65.48" fill="#60ff9f" stroke="#60ff9f"/>
<polygon points="237.97,37.50 251.50,30.42 251.50,40.79 237.97,52.53" fill="#80ff80" stroke="#80ff80"/>
<polygon points="251.50,30.42 265.02,24.77 265.02,31.47 251.50,40.79" fill="#80ff80" stroke="#80ff80"/>
<polygon points="265.03,24.77 278.55,20.36 278.55,24.26 265.03,31.47" fill="#80ff80" stroke="#80ff80"/>
<polygon points="35.10,24.26 48.62,31.47 48.62,36.22 35.10,27.03" fill="#70ff8f" stroke="#70ff8f"/>
<polygon points="48.62,31.47 62.15,40.79 62.15,48.15 48.62,36.22" fill="#70ff8f" stroke="#70ff8f"/>
<polygon points="62.15,40.79 75.68,52.53 75.68,63.18 62.15,48.15" fill="#60ff9f" stroke="#60ff9f"/>
<polygon points="75.68,52.53 89.20,65.48 89.20,79.69 75.68,63.18" fill="#60ff9f" stroke="#60ff9f"/>
<polygon points="89.20,65.48 102.73,79.33 102.73,97.39 89.20,79.69" fill="#60ff9f" stroke="#60ff9f"/>
<polygon points="102.72,79.33 116.25,93.19 116.25,115.16 102.72,97.39" fill="#40ffbf" stroke="#40ffbf"/>
<polygon points="116.25,93.19 129.78,104.55 129.78,129.72 116.25,115.16" fill="#40ffbf" stroke="#40ffbf"/>
<polygon points="129.78,104.55 143.30,112.71 143.30,140.21 129.78,129.72" fill="#50ffaf" stroke="#50ffaf"/>
<polygon points="143.30,112.71 156.83,115.40 156.83,143.70 143.30,140.21" fill="#60ff9f" stroke="#60ff9f"/>
<polygon points="156.83,115.40 170.35,112.71 170.35,140.21 156.83,143.70" fill="#70ff8f" stroke="#70ff8f"/>
<polygon points="170.35,112.71 183.88,104.55 183.88,129.72 170.35,140.21" fill="#8fff70" stroke="#8fff70"/>
<polygon points="183.88,104.55 197.40,93.19 197.40,115.16 183.88,129.72" fill="#cfff30" stroke="#cfff30"/>
<polygon points="197.40,93.19 210.93,79.33 210.93,97.39 197.40,115.16" fill="#8fff70" stroke="#8fff70"/>
<polygon points="210.93,79.33 224.45,65.48 224.45,79.69 210.93,97.39" fill="#8fff70" stroke="#8fff70"/>
<polygon points="224.45,65.48 237.97,52.53 237.97,63.18 224.45,79.69" fill="#8fff70" stroke="#8fff70"/>
<polygon points="237.97,52.53 251.50,40.79 251.50,48.15 237.97,63.18" fill="#8fff70" stroke="#8fff70"/>
<polygon points="251.50,40.79 265.02,31.47 265.02,36.22 251.50,48.15" fill="#80ff80" stroke="#80ff80"/>
<polygon points="265.03,31.47 278.55,24.26 278.55,27.03 265.03,36.22" fill="#80ff80" stroke="#80ff80"/>
<polygon points="35.10,27.03 48.62,36.22 48.62,40.25 35.10,29.37" fill="#70ff8f" stroke="#70ff8f"/>
<polygon points="48.62,36.22 62.15,48.15 62.15,54.38 48.62,40.25" fill="#70ff8f" stroke="#70ff8f"/>
<polygon points="62.15,48.15 75.68,63.18 75.68,72.21 62.15,54.38" fill="#50ffaf" stroke="#50ffaf"/>
<polygon points="75.68,63.18 89.20,79.69 89.20,91.74 75.68,72.21" fill="#20ffdf" stroke="#20ffdf"/>
<polygon points="89.20,79.69 102.73,97.39 102.73,112.69 89.20,91.74" fill="#00ffff" stroke="#00ffff"/>
<polygon points="102.72,97.39 116.25,115.16 116.25,133.78 102.72,112.69" fill="#00efff" stroke="#00efff"/>
<polygon points="116.25,115.16 129.78,129.72 129.78,151.04 116.25,133.78" fill="#00ffff" stroke="#00ffff"/>
<polygon points="129.78,129.72 143.30,140.21 143.30,163.51 129.78,151.04" fill="#00ffff" stroke="#00ffff"/>
<polygon points="143.30,140.21 156.83,143.70 156.83,167.67 143.30,163.51" fill="#30ffcf" stroke="#30ffcf"/>
<polygon points="156.83,143.70 170.35,140.21 170.35,163.51 156.83,167.67" fill="#60ff9f" stroke="#60ff9f"/>
<polygon points="170.35,140.21 183.88,129.72 183.88,151.04 170.35,163.51" fill="#9fff60" stroke="#9fff60"/>
<polygon points="183.88,129.72 197.40,115.16 197.40,133.78 183.88,151.04" fill="#ffff00" stroke="#ffff00"/>
<polygon points="197.40,115.16 210.93,97.39 210.93,112.69 197.40,133.78" fill="#ffef00" stroke="#ffef00"/>
<polygon points="210.93,97.39 224.45,79.69 224.45,91.74 210.93,112.69" fill="#efff10" stroke="#efff10"/>
<polygon points="224.45,79.69 237.97,63.18 237.97,72.21 224.45,91.74" fill="#afff50" stroke="#afff50"/>
<polygon points="237.97,63.18 251.50,48.15 251.50,54.38 237.97,72.21" fill="#9fff60" stroke="#9fff60"/>
<polygon points="251.50,48.15 265.02,36.22 265.02,40.25 251.50,54.38" fill="#8fff70" stroke="#8fff70"/>
<polygon points="265.03,36.22 278.55,27.03 278.55,29.37 265.03,40.25" fill="#80ff80" stroke="#80ff80"/>
<polygon points="35.10,29.37 48.62,40.25 48.62,43.38 35.10,31.19" fill="#70ff8f" stroke="#70ff8f"/>
<polygon points="48.62,40.25 62.15,54.38 62.15,59.24 48.62,43.38" fill="#70ff8f" stroke="#70ff8f"/>
<polygon points="62.15,54.38 75.68,72.21 75.68,79.24 62.15,59.24" fill="#50ffaf" stroke="#50ffaf"/>
<polygon points="75.68,72.21 89.20,91.74 89.20,101.11 75.68,79.24" fill="#00ffff" stroke="#00ffff"/>
<polygon points="89.20,91.74 102.73,112.69 102.73,124.60 89.20,101.11" fill="#009fff" stroke="#009fff"/>
<polygon points="102.72,112.69 116.25,133.78 116.25,148.28 102.72,124.60" fill="#008fff" stroke="#008fff"/>
<polygon points="116.25,133.78 129.78,151.04 129.78,167.65 116.25,148.28" fill="#00bfff" stroke="#00bfff"/>
<polygon points="129.78,151.04 143.30,163.51 143.30,181.66 129.78,167.65" fill="#00dfff" stroke="#00dfff"/>
<polygon points="143.30,163.51 156.83,167.67 156.83,186.34 143.30,181.66" fill="#00ffff" stroke="#00ffff"/>
<polygon points="156.83,167.67 170.35,163.51 170.35,181.66 156.83,186.34" fill="#50ffaf" stroke="#50ffaf"/>
<polygon points="170.35,163.51 183.88,151.04 183.88,167.65 170.35,181.66" fill="#bfff40" stroke="#bfff40"/>
<polygon points="183.88,151.04 197.40,133.78 197.40,148.28 183.88,167.65" fill="#ffdf00" stroke="#ffdf00"/>
<polygon points="197.40,133.78 210.93,112.69 210.93,124.60 197.40,148.28" fill="#ff9f00" stroke="#ff9f00"/>
<polygon points="210.93,112.69 224.45,91.74 224.45,101.11 210.93,124.60" fill="#ffaf00" stroke="#ffaf00"/>
<polygon points="224.45,91.74 237.97,72.21 237.97,79.24 224.45,101.11" fill="#dfff20" stroke="#dfff20"/>
<polygon points="237.97,72.21 251.50,54.38 251.50,59.24 237.97,79.24" fill="#afff50" stroke="#afff50"/>
<polygon points="251.50,54.38 265.02,40.25 265.02,43.38 251.50,59.24" fill="#8fff70" stroke="#8fff70"/>
<polygon points="265.03,40.25 278.55,29.37 278.55,31.19 265.03,43.38" fill="#80ff80" stroke="#80ff80"/>
<polygon points="35.10,31.19 48.62,43.38 48.62,46.15 35.10,32.80" fill="#70ff8f" stroke="#70ff8f"/>
<polygon points="48.62,43.38 62.15,59.24 62.15,63.53 48.62,46.15" fill="#70ff8f" stroke="#70ff8f"/>
<polygon points="62.15,59.24 75.68,79.24 75.68,85.46 62.15,63.53" fill="#50ffaf" stroke="#50ffaf"/>
<polygon points="75.68,79.24 89.20,101.11 89.20,109.40 75.68,85.46" fill="#00ffff" stroke="#00ffff"/>
<polygon points="89.20,101.11 102.73,124.60 102.73,135.14 89.20,109.40" fill="#008fff" stroke="#008fff"/>
<polygon points="102.72,124.60 116.25,148.28 116.25,161.09 102.72,135.14" fill="#0060ff" stroke="#0060ff"/>
<polygon points="116.25,148.28 129.78,167.65 129.78,182.33 116.25,161.09" fill="#008fff" stroke="#008fff"/>
<polygon points="129.78,167.65 143.30,181.66 143.30,197.70 129.78,182.33" fill="#00bfff" stroke="#00bfff"/>
<polygon points="143.30,181.66 156.83,186.34 156.83,202.85 143.30,197.70" fill="#00efff" stroke="#00efff"/>
<polygon points="156.83,186.34 170.35,181.66 170.35,197.70 156.83,202.85" fill="#50ffaf" stroke="#50ffaf"/>
<polygon points="170.35,181.66 183.88,167.65 183.88,182.33 170.35,197.70" fill="#cfff30" stroke="#cfff30"/>
<polygon points="183.88,167.65 197.40,148.28 197.40,161.09 183.88,182.33" fill="#ffaf00" stroke="#ffaf00"/>
<polygon points="197.40,148.28 210.93,124.60 210.93,135.14 197.40,161.09" fill="#ff8f00" stroke="#ff8f00"/>
<polygon points="210.93,124.60 224.45,101.11 224.45,109.40 210.93,135.14" fill="#ff9f00" stroke="#ff9f00"/>
<polygon points="224.45,101.11 237.97,79.24 237.97,85.46 224.45,109.40" fill="#efff10" stroke="#efff10"/>
<polygon points="237.97,79.24 251.50,59.24 251.50,63.53 237.97,85.46" fill="#afff50" stroke="#afff50"/>
<polygon points="251.50,59.24 265.02,43.38 265.02,46.15 251.50,63.53" fill="#8fff70" stroke="#8fff70"/>
<polygon points="265.03,43.38 278.55,31.19 278.55,32.80 265.03,46.15" fill="#80ff80" stroke="#80ff80"/>
<polygon points="35.10,32.80 48.62,46.15 48.62,48.17 35.10,33.98" fill="#70ff8f" stroke="#70ff8f"/>
<polygon points="48.62,46.15 62.15,63.53 62.15,66.65 48.62,48.17" fill="#70ff8f" stroke="#70ff8f"/>
<polygon points="62.15,63.53 75.68,85.46 75.68,89.97 62.15,66.65" fill="#50ffaf" stroke="#50ffaf"/>
<polygon points="75.68,85.46 89.20,109.40 89.20,115.42 75.68,89.97" fill="#00ffff" stroke="#00ffff"/>
<polygon points="89.20,109.40 102.73,135.14 102.73,142.79 89.20,115.42" fill="#0080ff" stroke="#0080ff"/>
<polygon points="102.72,135.14 116.25,161.09 116.25,170.40 102.72,142.79" fill="#0050ff" stroke="#0050ff"/>
<polygon points="116.25,161.09 129.78,182.33 129.78,192.99 116.25,170.40" fill="#0070ff" stroke="#0070ff"/>
<polygon points="129.78,182.33 143.30,197.70 143.30,209.36 129.78,192.99" fill="#009fff" stroke="#009fff"/>
<polygon points="143.30,197.70 156.83,202.85 156.83,214.83 143.30,209.36" fill="#00dfff" stroke="#00dfff"/>
<polygon points="156.83,202.85 170.35,197.70 170.35,209.36 156.83,214.83" fill="#40ffbf" stroke="#40ffbf"/>
<polygon points="170.35,197.70 183.88,182.33 183.88,192.99 170.35,209.36" fill="#cfff30" stroke="#cfff30"/>
<polygon points="183.88,182.33 197.40,161.09 197.40,170.40 183.88,192.99" fill="#ff9f00" stroke="#ff9f00"/>
<polygon points="197.40,161.09 210.93,135.14 210.93,142.79 197.40,170.40" fill="#ff8000" stroke="#ff8000"/>
<polygon points="210.93,135.14 224.45,109.40 224.45,115.42 210.93,142.79" fill="#ff8f00" stroke="#ff8f00"/>
<polygon points="224.45,109.40 237.97,85.46 237.97,89.97 224.45,115.42" fill="#efff10" stroke="#efff10"/>
<polygon points="237.97,85.46 251.50,63.53 251.50,66.65 237.97,89.97" fill="#afff50" stroke="#afff50"/>
<polygon points="251.50,63.53 265.02,46.15 265.02,48.17 251.50,66.65" fill="#8fff70" stroke="#8fff70"/>
<polygon points="265.03,46.15 278.55,32.80 278.55,33.98 265.03,48.17" fill="#80ff80" stroke="#80ff80"/>
<polygon points="35.10,33.98 48.62,48.17 48.62,49.58 35.10,34.80" fill="#70ff8f" stroke="#70ff8f"/>
<polygon points="48.62,48.17 62.15,66.65 62.15,68.84 48.62,49.58" fill="#70ff8f" stroke="#70ff8f"/>
<polygon points="62.15,66.65 75.68,89.97 75.68,93.15 62.15,68.84" fill="#50ffaf" stroke="#50ffaf"/>
<polygon points="75.68,89.97 89.20,115.42 89.20,119.67 75.68,93.15" fill="#00ffff" stroke="#00ffff"/>
<polygon points="89.20,115.42 102.73,142.79 102.73,148.18 89.20,119.67" fill="#008fff" stroke="#008fff"/>
<polygon points="102.72,142.79 116.25,170.40 116.25,176.96 102.72,148.18" fill="#0050ff" stroke="#0050ff"/>
<polygon points="116.25,170.40 129.78,192.99 129.78,200.51 116.25,176.96" fill="#0060ff" stroke="#0060ff"/>
<polygon points="129.78,192.99 143.30,209.36 143.30,217.57 129.78,200.51" fill="#008fff" stroke="#008fff"/>
<polygon points="143.30,209.36 156.83,214.83 156.83,223.28 143.30,217.57" fill="#00cfff" stroke="#00cfff"/>
<polygon points="156.83,214.83 170.35,209.36 170.35,217.57 156.83,223.28" fill="#40ffbf" stroke="#40ffbf"/>
<polygon points="170.35,209.36 183.88,192.99 183.88,200.51 170.35,217.57" fill="#dfff20" stroke="#dfff20"/>
<polygon points="183.88,192.99 197.40,170.40 197.40,176.96 183.88,200.51" fill="#ff9f00" stroke="#ff9f00"/>
<polygon points="197.40,170.40 210.93,142.79 210.93,148.18 197.40,176.96" fill="#ff8000" stroke="#ff8000"/>
<polygon points="210.93,142.79 224.45,115.42 224.45,119.67 210.93,148.18" fill="#ff9f00" stroke="#ff9f00"/>
<polygon points="224.45,115.42 237.97,89.97 237.97,93.15 224.45,119.67" fill="#efff10" stroke="#efff10"/>
<polygon points="237.97,89.97 251.50,66.65 251.50,68.84 237.97,93.15" fill="#afff50" stroke="#afff50"/>
<polygon points="251.50,66.65 265.02,48.17 265.02,49.58 251.50,68.84" fill="#8fff70" stroke="#8fff70"/>
<polygon points="265.03,48.17 278.55,33.98 278.55,34.80 265.03,49.58" fill="#80ff80" stroke="#80ff80"/>
<polygon points="35.10,34.80 48.62,49.58 48.62,50.61 35.10,35.40" fill="#70ff8f" stroke="#70ff8f"/>
<polygon points="48.62,49.58 62.15,68.84 62.15,70.43 48.62,50.61" fill="#70ff8f" stroke="#70ff8f"/>
<polygon points="62.15,68.84 75.68,93.15 75.68,95.45 62.15,70.43" fill="#50ffaf" stroke="#50ffaf"/>
<polygon points="75.68,93.15 89.20,119.67 89.20,122.73 75.68,95.45" fill="#00ffff" stroke="#00ffff"/>
<polygon points="89.20,119.67 102.73,148.18 102.73,152.07 89.20,122.73" fill="#008fff" stroke="#008fff"/>
<polygon points="102.72,148.18 116.25,176.96 116.25,181.70 102.72,152.07" fill="#0060ff" stroke="#0060ff"/>
<polygon points="116.25,176.96 129.78,200.51 129.78,205.93 116.25,181.70" fill="#0060ff" stroke="#0060ff"/>
<polygon points="129.78,200.51 143.30,217.57 143.30,223.49 129.78,205.93" fill="#008fff" stroke="#008fff"/>
<polygon points="143.30,217.57 156.83,223.28 156.83,229.37 143.30,223.49" fill="#00dfff" stroke="#00dfff"/>
<polygon points="156.83,223.28 170.35,217.57 170.35,223.49 156.83,229.37" fill="#40ffbf" stroke="#40ffbf"/>
<polygon points="170.35,217.57 183.88,200.51 183.88,205.93 170.35,223.49" fill="#dfff20" stroke="#dfff20"/>
<polygon points="183.88,200.51 197.40,176.96 197.40,181.70 183.88,205.93" fill="#ff9f00" stroke="#ff9f00"/>
<polygon points="197.40,176.96 210.93,148.18 210.93,152.07 197.40,181.70" fill="#ff7000" stroke="#ff7000"/>
<polygon points="210.93,148.18 224.45,119.67 224.45,122.73 210.93,152.07" fill="#ff9f00" stroke="#ff9f00"/>
<polygon points="224.45,119.67 237.97,93.15 237.97,95.45 224.45,122.73" fill="#efff10" stroke="#efff10"/>
<polygon points="237.97,93.15 251.50,68.84 251.50,70.43 237.97,95.45" fill="#afff50" stroke="#afff50"/>
<polygon points="251.50,68.84 265.02,49.58 265.02,50.61 251.50,70.43" fill="#8fff70" stroke="#8fff70"/>
<polygon points="265.03,49.58 278.55,34.80 278.55,35.40 265.03,50.61" fill="#80ff80" stroke="#80ff80"/>
<polygon points="35.10,35.40 48.62,50.61 48.62,51.30 35.10,35.80" fill="#70ff8f" stroke="#70ff8f"/>
<polygon points="48.62,50.61 62.15,70.43 62.15,71.50 48.62,51.30" fill="#70ff8f" stroke="#70ff8f"/>
<polygon points="62.15,70.43 75.68,95.45 75.68,97.00 62.15,71.50" fill="#50ffaf" stroke="#50ffaf"/>
<polygon points="75.68,95.45 89.20,122.73 89.20,124.80 75.68,97.00" fill="#00ffff" stroke="#00ffff"/>
<polygon points="89.20,122.73 102.73,152.07 102.73,154.70 89.20,124.80" fill="#008fff" stroke="#008fff"/>
<polygon points="102.72,152.07 116.25,181.70 116.25,184.90 102.72,154.70" fill="#0080ff" stroke="#0080ff"/>
<polygon points="116.25,181.70 129.78,205.93 129.78,209.60 116.25,184.90" fill="#0060ff" stroke="#0060ff"/>
<polygon points="129.78,205.93 143.30,223.49 143.30,227.50 129.78,209.60" fill="#008fff" stroke="#008fff"/>
<polygon points="143.30,223.49 156.83,229.37 156.83,233.50 143.30,227.50" fill="#00dfff" stroke="#00dfff"/>
<polygon points="156.83,229.37 170.35,223.49 170.35,227.50 156.83,233.50" fill="#40ffbf" stroke="#40ffbf"/>
<polygon points="170.35,223.49 183.88,205.93 183.88,209.60 170.35,227.50" fill="#cfff30" stroke="#cfff30"/>
<polygon points="183.88,205.93 197.40,181.70 197.40,184.90 183.88,209.60" fill="#ff9f00" stroke="#ff9f00"/>
<polygon points="197.40,181.70 210.93,152.07 210.93,154.70 197.40,184.90" fill="#ff7000" stroke="#ff7000"/>
<polygon points="210.93,152.07 224.45,122.73 224.45,124.80 210.93,154.70" fill="#ff9f00" stroke="#ff9f00"/>
<polygon points="224.45,122.73 237.97,95.45 237.97,97.00 224.45,124.80" fill="#efff10" stroke="#efff10"/>
<polygon points="237.97,95.45 251.50,70.43 251.50,71.50 237.97,97.00" fill="#afff50" stroke="#afff50"/>
<polygon points="251.50,70.43 265.02,50.61 265.02,51.30 251.50,71.50" fill="#8fff70" stroke="#8fff70"/>
<polygon points="265.03,50.61 278.55,35.40 278.55,35.80 265.03,51.30" fill="#80ff80" stroke="#80ff80"/>
</g>
<g font-family="'Liberation Serif', serif" font-size="13.2px" fill="#262626">
<text transform="translate(62.15,247.00) scale(0.93,1)" text-anchor="middle">1000</text>
<text transform="translate(116.25,247.00) scale(0.93,1)" text-anchor="middle">2000</text>
<text transform="translate(170.35,247.00) scale(0.93,1)" text-anchor="middle">3000</text>
<text transform="translate(224.45,247.00) scale(0.93,1)" text-anchor="middle">4000</text>
<text transform="translate(278.55,247.00) scale(0.93,1)" text-anchor="middle">5000</text>
<text transform="translate(32.60,51.21) scale(0.93,1)" text-anchor="end">–5</text>
<text transform="translate(32.60,89.16) scale(0.93,1)" text-anchor="end">–10</text>
<text transform="translate(32.60,127.11) scale(0.93,1)" text-anchor="end">–15</text>
<text transform="translate(32.60,165.06) scale(0.93,1)" text-anchor="end">–20</text>
<text transform="translate(32.60,203.01) scale(0.93,1)" text-anchor="end">–25</text>
<text transform="translate(156.80,257.60) scale(0.93,1)" text-anchor="middle" letter-spacing="0.3">y <tspan fill="#26264a">(m)</tspan></text>
<text transform="translate(9.2,125) rotate(-90) scale(0.93,1)" text-anchor="middle" letter-spacing="0.5">z (m)</text>
<text transform="translate(303.20,26.80) scale(0.93,1)" text-anchor="start">0.06</text>
<text transform="translate(303.20,62.20) scale(0.93,1)" text-anchor="start">0.04</text>
<text transform="translate(303.20,97.60) scale(0.93,1)" text-anchor="start">0.02</text>
<text transform="translate(303.20,133.00) scale(0.93,1)" text-anchor="start">0</text>
<text transform="translate(303.20,168.40) scale(0.93,1)" text-anchor="start">–0.02</text>
<text transform="translate(303.20,203.80) scale(0.93,1)" text-anchor="start">–0.04</text>
</g>
<text x="156.8" y="8.1" text-anchor="middle" font-family="'Liberation Sans', sans-serif" font-size="11.5px" letter-spacing="0.6" fill="#222" stroke="#222" stroke-width="0.2">&lt;v&gt;</text>
<text x="1.9" y="12.6" font-family="'Liberation Sans', sans-serif" font-weight="bold" font-size="16.5px" fill="#111">b</text>
<g shape-rendering="crispEdges">
<rect x="288.6" y="229.62" width="13.0" height="3.68" fill="#00008f"/>
<rect x="288.6" y="226.24" width="13.0" height="3.68" fill="#00009f"/>
<rect x="288.6" y="222.86" width="13.0" height="3.68" fill="#0000af"/>
<rect x="288.6" y="219.47" width="13.0" height="3.68" fill="#0000bf"/>
<rect x="288.6" y="216.09" width="13.0" height="3.68" fill="#0000cf"/>
<rect x="288.6" y="212.71" width="13.0" height="3.68" fill="#0000df"/>
<rect x="288.6" y="209.33" width="13.0" height="3.68" fill="#0000ef"/>
<rect x="288.6" y="205.95" width="13.0" height="3.68" fill="#0000ff"/>
<rect x="288.6" y="202.57" width="13.0" height="3.68" fill="#0010ff"/>
<rect x="288.6" y="199.19" width="13.0" height="3.68" fill="#0020ff"/>
<rect x="288.6" y="195.81" width="13.0" height="3.68" fill="#0030ff"/>
<rect x="288.6" y="192.43" width="13.0" height="3.68" fill="#0040ff"/>
<rect x="288.6" y="189.04" width="13.0" height="3.68" fill="#0050ff"/>
<rect x="288.6" y="185.66" width="13.0" height="3.68" fill="#0060ff"/>
<rect x="288.6" y="182.28" width="13.0" height="3.68" fill="#0070ff"/>
<rect x="288.6" y="178.90" width="13.0" height="3.68" fill="#0080ff"/>
<rect x="288.6" y="175.52" width="13.0" height="3.68" fill="#008fff"/>
<rect x="288.6" y="172.14" width="13.0" height="3.68" fill="#009fff"/>
<rect x="288.6" y="168.76" width="13.0" height="3.68" fill="#00afff"/>
<rect x="288.6" y="165.38" width="13.0" height="3.68" fill="#00bfff"/>
<rect x="288.6" y="161.99" width="13.0" height="3.68" fill="#00cfff"/>
<rect x="288.6" y="158.61" width="13.0" height="3.68" fill="#00dfff"/>
<rect x="288.6" y="155.23" width="13.0" height="3.68" fill="#00efff"/>
<rect x="288.6" y="151.85" width="13.0" height="3.68" fill="#00ffff"/>
<rect x="288.6" y="148.47" width="13.0" height="3.68" fill="#10ffef"/>
<rect x="288.6" y="145.09" width="13.0" height="3.68" fill="#20ffdf"/>
<rect x="288.6" y="141.71" width="13.0" height="3.68" fill="#30ffcf"/>
<rect x="288.6" y="138.32" width="13.0" height="3.68" fill="#40ffbf"/>
<rect x="288.6" y="134.94" width="13.0" height="3.68" fill="#50ffaf"/>
<rect x="288.6" y="131.56" width="13.0" height="3.68" fill="#60ff9f"/>
<rect x="288.6" y="128.18" width="13.0" height="3.68" fill="#70ff8f"/>
<rect x="288.6" y="124.80" width="13.0" height="3.68" fill="#80ff80"/>
<rect x="288.6" y="121.42" width="13.0" height="3.68" fill="#8fff70"/>
<rect x="288.6" y="118.04" width="13.0" height="3.68" fill="#9fff60"/>
<rect x="288.6" y="114.66" width="13.0" height="3.68" fill="#afff50"/>
<rect x="288.6" y="111.27" width="13.0" height="3.68" fill="#bfff40"/>
<rect x="288.6" y="107.89" width="13.0" height="3.68" fill="#cfff30"/>
<rect x="288.6" y="104.51" width="13.0" height="3.68" fill="#dfff20"/>
<rect x="288.6" y="101.13" width="13.0" height="3.68" fill="#efff10"/>
<rect x="288.6" y="97.75" width="13.0" height="3.68" fill="#ffff00"/>
<rect x="288.6" y="94.37" width="13.0" height="3.68" fill="#ffef00"/>
<rect x="288.6" y="90.99" width="13.0" height="3.68" fill="#ffdf00"/>
<rect x="288.6" y="87.61" width="13.0" height="3.68" fill="#ffcf00"/>
<rect x="288.6" y="84.22" width="13.0" height="3.68" fill="#ffbf00"/>
<rect x="288.6" y="80.84" width="13.0" height="3.68" fill="#ffaf00"/>
<rect x="288.6" y="77.46" width="13.0" height="3.68" fill="#ff9f00"/>
<rect x="288.6" y="74.08" width="13.0" height="3.68" fill="#ff8f00"/>
<rect x="288.6" y="70.70" width="13.0" height="3.68" fill="#ff8000"/>
<rect x="288.6" y="67.32" width="13.0" height="3.68" fill="#ff7000"/>
<rect x="288.6" y="63.94" width="13.0" height="3.68" fill="#ff6000"/>
<rect x="288.6" y="60.56" width="13.0" height="3.68" fill="#ff5000"/>
<rect x="288.6" y="57.17" width="13.0" height="3.68" fill="#ff4000"/>
<rect x="288.6" y="53.79" width="13.0" height="3.68" fill="#ff3000"/>
<rect x="288.6" y="50.41" width="13.0" height="3.68" fill="#ff2000"/>
<rect x="288.6" y="47.03" width="13.0" height="3.68" fill="#ff1000"/>
<rect x="288.6" y="43.65" width="13.0" height="3.68" fill="#ff0000"/>
<rect x="288.6" y="40.27" width="13.0" height="3.68" fill="#ef0000"/>
<rect x="288.6" y="36.89" width="13.0" height="3.68" fill="#df0000"/>
<rect x="288.6" y="33.51" width="13.0" height="3.68" fill="#cf0000"/>
<rect x="288.6" y="30.12" width="13.0" height="3.68" fill="#bf0000"/>
<rect x="288.6" y="26.74" width="13.0" height="3.68" fill="#af0000"/>
<rect x="288.6" y="23.36" width="13.0" height="3.68" fill="#9f0000"/>
<rect x="288.6" y="19.98" width="13.0" height="3.68" fill="#8f0000"/>
<rect x="288.6" y="16.60" width="13.0" height="3.68" fill="#800000"/>
</g>
<rect x="288.6" y="16.6" width="13.0" height="216.4" fill="none" stroke="#333" stroke-width="0.6"/>
<g stroke="#111" stroke-width="0.9">
<line x1="288.6" y1="22.50" x2="290.6" y2="22.50"/>
<line x1="301.6" y1="22.50" x2="299.6" y2="22.50"/>
<line x1="288.6" y1="57.90" x2="290.6" y2="57.90"/>
<line x1="301.6" y1="57.90" x2="299.6" y2="57.90"/>
<line x1="288.6" y1="93.30" x2="290.6" y2="93.30"/>
<line x1="301.6" y1="93.30" x2="299.6" y2="93.30"/>
<line x1="288.6" y1="128.70" x2="290.6" y2="128.70"/>
<line x1="301.6" y1="128.70" x2="299.6" y2="128.70"/>
<line x1="288.6" y1="164.10" x2="290.6" y2="164.10"/>
<line x1="301.6" y1="164.10" x2="299.6" y2="164.10"/>
<line x1="288.6" y1="199.50" x2="290.6" y2="199.50"/>
<line x1="301.6" y1="199.50" x2="299.6" y2="199.50"/>
</g>
</g>
</svg>
</body></html>
